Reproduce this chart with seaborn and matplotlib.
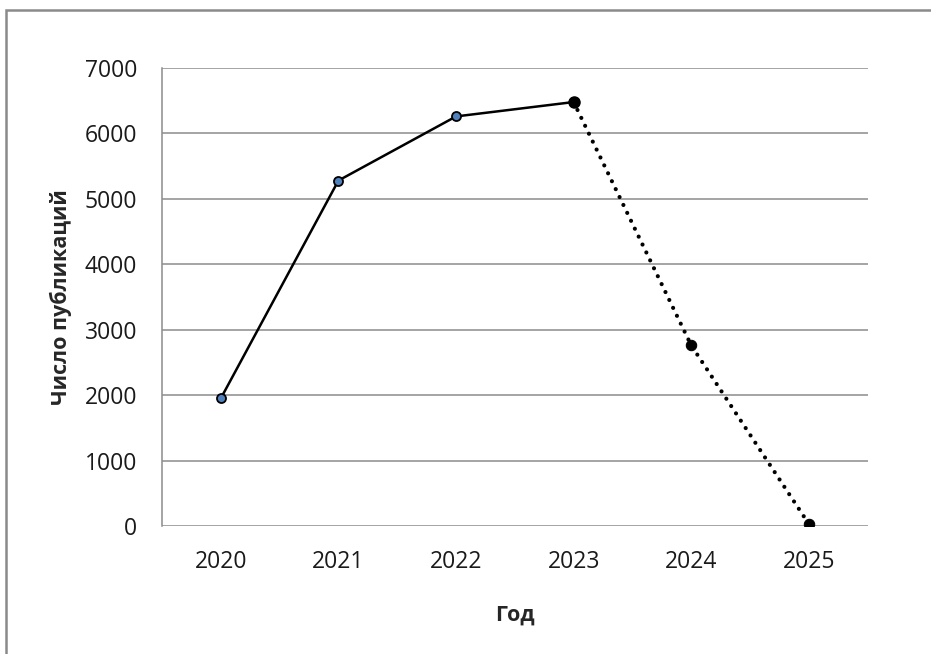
import matplotlib
matplotlib.use("Agg")
import matplotlib.pyplot as plt
from matplotlib.patches import Rectangle
import seaborn as sns
import pandas as pd

# Publications per year: observed years and forecast tail
years = ["2020", "2021", "2022", "2023", "2024", "2025"]
observed_years = ["2020", "2021", "2022", "2023"]
observed_counts = [1950, 5280, 6260, 6480]
forecast_years = ["2023", "2024", "2025"]
forecast_counts = [6480, 2760, 30]

y_ticks = [0, 1000, 2000, 3000, 4000, 5000, 6000, 7000]

sns.set_theme(style="white")
plt.rcParams["font.family"] = ["Open Sans", "DejaVu Sans"]

fig = plt.figure(figsize=(9.31, 6.54), dpi=100)
ax = fig.add_axes([0.174, 0.1957, 0.758, 0.7003])

pos = {y: i for i, y in enumerate(years)}
obs = pd.DataFrame({"x": [pos[y] for y in observed_years], "count": observed_counts})
fc = pd.DataFrame({"x": [pos[y] for y in forecast_years], "count": forecast_counts})

for v in y_ticks:
    ax.axhline(v, color="#8c8c8c", lw=1.1, zorder=0)

sns.lineplot(data=fc, x="x", y="count", ax=ax, color="black", lw=3.0,
             linestyle=(0, (0.01, 2.1)), dash_capstyle="round", zorder=2)
sns.lineplot(data=fc.iloc[1:], x="x", y="count", ax=ax, color="black", lw=0,
             marker="o", markersize=7.5, markeredgecolor="black", zorder=3)
sns.lineplot(data=obs, x="x", y="count", ax=ax, color="black", lw=1.8,
             marker="o", markersize=6.5, markerfacecolor="#4f81bd",
             markeredgecolor="black", markeredgewidth=1.3, zorder=3)
ax.plot([pos["2023"]], [observed_counts[-1]], "o", color="black",
        markersize=8, zorder=4)

ax.set_xlim(-0.5, len(years) - 0.5)
ax.set_ylim(0, 7000)
ax.set_xticks(range(len(years)))
ax.set_xticklabels(years)
ax.set_yticks(y_ticks)
ax.tick_params(axis="both", labelsize=16.5, colors="#1a1a1a", length=0)
ax.tick_params(axis="x", pad=17)
ax.tick_params(axis="y", pad=18)

for side in ["top", "right", "bottom"]:
    ax.spines[side].set_visible(False)
ax.spines["left"].set_color("#8c8c8c")
ax.spines["left"].set_linewidth(1.1)

ax.set_xlabel("Год", fontsize=15.5, fontweight="bold", labelpad=22)
ax.set_ylabel("Число публикаций", fontsize=15.5, fontweight="bold", labelpad=9)

# outer chart frame
fig.patches.append(Rectangle((6 / 931, -0.1), 1.2, (654 - 10) / 654 + 0.1,
                             transform=fig.transFigure, fill=False,
                             edgecolor="#8a8a8a", lw=1.8, zorder=10))

fig.savefig("out.png", dpi=100, facecolor="white")
